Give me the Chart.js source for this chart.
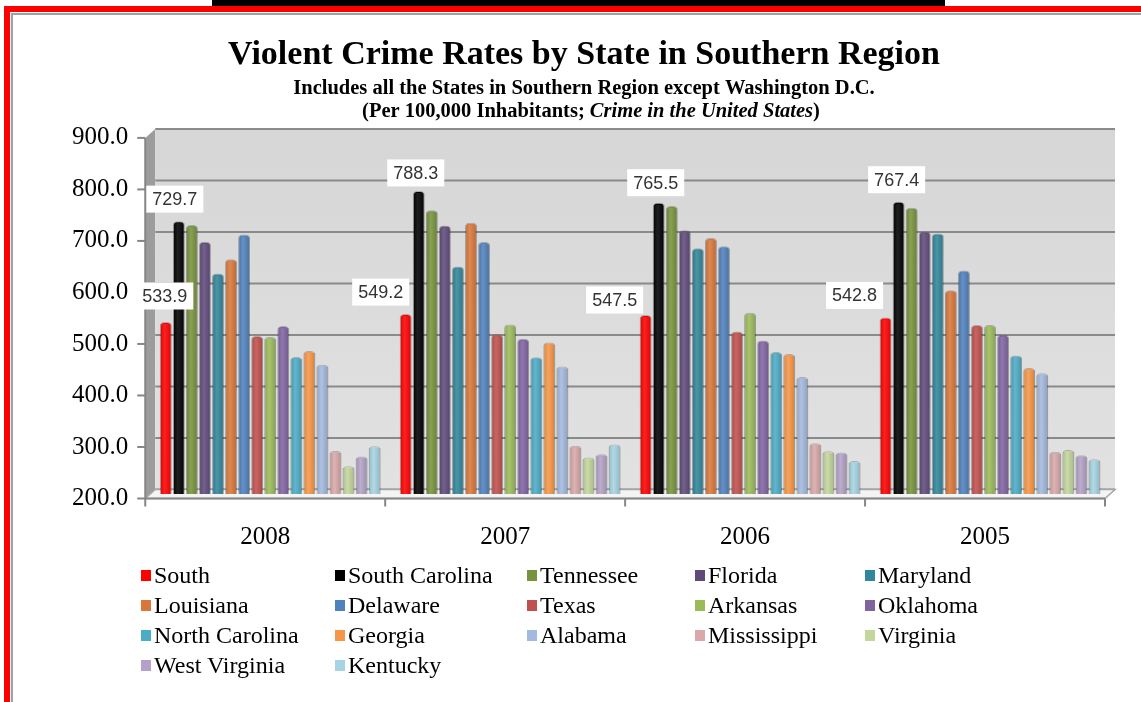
<!DOCTYPE html>
<html lang="en">
<head>
  <meta charset="UTF-8">
  <title>Violent Crime Rates by State in Southern Region</title>
  <script src="https://cdn.jsdelivr.net/npm/chart.js"></script>
  <style>
    body { margin: 0; background: #fff; }
    #page { position: relative; width: 1141px; height: 702px; overflow: hidden; background: #fff; }
    #chartBox { position: absolute; left: 0; top: 0; width: 1141px; height: 589px; }
    .frame { position: absolute; }
    .topbar { left: 212px; top: 0; width: 733px; height: 7px; background: #000; }
    .redTop { left: 4px; top: 6px; right: 0; height: 6px; background: #f00; }
    .redLeft { left: 4px; top: 6px; width: 6px; bottom: 0; background: #f00; }
    .grayTop { left: 11px; top: 13px; right: 0; height: 0; border-top: 2px solid #a0a0a0; }
    .grayLeft { left: 11px; top: 13px; width: 0; bottom: 0; border-left: 2px solid #a0a0a0; }
    #legend {
      position: absolute; left: 141px; top: 560px;
      display: grid; grid-template-columns: 194px 192px 168px 170px 170px; grid-auto-rows: 30px;
      font: 24px "Liberation Serif", serif; color: #000;
    }
    #legend .item { display: flex; align-items: center; white-space: nowrap; }
    #legend .box { display: inline-block; width: 10px; height: 11px; margin-right: 3px; }
  </style>
</head>
<body>
  <div id="page">
    <div id="chartBox"><canvas id="grafico"></canvas></div>
    <div class="frame topbar"></div>
    <div class="frame redTop"></div>
    <div class="frame redLeft"></div>
    <div class="frame grayTop"></div>
    <div class="frame grayLeft"></div>
    <div id="legend"></div>
  </div>

  <script>
    const anos = ['2008', '2007', '2006', '2005'];
    const yTicks = [200, 300, 400, 500, 600, 700, 800, 900];

    const estados = ['South', 'South Carolina', 'Tennessee', 'Florida', 'Maryland', 'Louisiana',
      'Delaware', 'Texas', 'Arkansas', 'Oklahoma', 'North Carolina', 'Georgia', 'Alabama',
      'Mississippi', 'Virginia', 'West Virginia', 'Kentucky'];

    const south         = [533.9, 549.2, 547.5, 542.8];
    const southCarolina = [729.7, 788.3, 765.5, 767.4];
    const tennessee     = [722.2, 750.8, 759.1, 755.9];
    const florida       = [689.5, 721.2, 712.2, 709.7];
    const maryland      = [627.8, 641.4, 677.0, 705.9];
    const louisiana     = [655.8, 726.4, 696.8, 595.5];
    const delaware      = [703.6, 689.4, 680.8, 634.0];
    const texas         = [506.7, 510.0, 515.4, 528.2];
    const arkansas      = [504.7, 529.2, 551.9, 528.2];
    const oklahoma      = [526.0, 501.2, 498.1, 508.9];
    const northCarolina = [465.9, 465.3, 475.5, 469.1];
    const georgia       = [477.5, 494.1, 471.7, 444.6];
    const alabama       = [450.9, 447.4, 426.9, 434.4];
    const mississippi   = [283.7, 293.8, 298.5, 281.8];
    const virginia      = [254.0, 270.8, 283.1, 285.6];
    const westVirginia  = [272.8, 277.1, 280.6, 275.2];
    const kentucky      = [292.8, 296.3, 263.9, 267.5];

    const valores = [south, southCarolina, tennessee, florida, maryland, louisiana, delaware,
      texas, arkansas, oklahoma, northCarolina, georgia, alabama, mississippi, virginia,
      westVirginia, kentucky];

    const cores = ['#ff0000', '#000000', '#77933c', '#604a7b', '#31859c', '#d9773a', '#4f81bd',
      '#c0504d', '#9bbb59', '#8064a2', '#4bacc6', '#f79646', '#a3b9de', '#d9a8a8', '#c3d69b',
      '#b3a2c7', '#a5d4e3'];

    // deslocamento do plano da frente / fundo (efeito 3D)
    const F = { dx: -5, dy: 4.5 };
    const B = { dx: 5, dy: -4.5 };

    const paredes3d = {
      id: 'paredes3d',
      beforeDatasetsDraw(chart) {
        const { ctx, chartArea: a, scales: { y } } = chart;
        ctx.save();
        // parede lateral
        ctx.fillStyle = '#9c9c9c';
        ctx.beginPath();
        ctx.moveTo(a.left + F.dx, a.top + F.dy);
        ctx.lineTo(a.left + B.dx, a.top + B.dy);
        ctx.lineTo(a.left + B.dx, a.bottom + B.dy);
        ctx.lineTo(a.left + F.dx, a.bottom + F.dy);
        ctx.closePath();
        ctx.fill();
        // parede do fundo
        const g = ctx.createLinearGradient(0, a.top, 0, a.bottom);
        g.addColorStop(0, '#d6d6d6');
        g.addColorStop(1, '#e2e2e2');
        ctx.fillStyle = g;
        ctx.fillRect(a.left + B.dx, a.top + B.dy, a.width, a.height);
        // linhas de grade
        ctx.strokeStyle = '#8a8a8a';
        ctx.lineWidth = 2;
        yTicks.forEach(v => {
          const py = y.getPixelForValue(v) + B.dy;
          ctx.beginPath();
          ctx.moveTo(a.left + B.dx, py);
          ctx.lineTo(a.right + B.dx, py);
          ctx.stroke();
        });
        // piso
        ctx.fillStyle = '#f4f4f4';
        ctx.strokeStyle = '#a6a6a6';
        ctx.lineWidth = 1.5;
        ctx.beginPath();
        ctx.moveTo(a.left + F.dx, a.bottom + F.dy);
        ctx.lineTo(a.left + B.dx, a.bottom + B.dy);
        ctx.lineTo(a.right + B.dx, a.bottom + B.dy);
        ctx.lineTo(a.right + F.dx, a.bottom + F.dy);
        ctx.closePath();
        ctx.fill();
        ctx.stroke();
        // eixos da frente
        ctx.strokeStyle = '#868686';
        ctx.lineWidth = 2;
        ctx.beginPath();
        ctx.moveTo(a.left + F.dx, a.top + F.dy);
        ctx.lineTo(a.left + F.dx, a.bottom + F.dy);
        ctx.lineTo(a.right + F.dx, a.bottom + F.dy);
        ctx.stroke();
        yTicks.forEach(v => {
          const py = y.getPixelForValue(v) + F.dy;
          ctx.beginPath();
          ctx.moveTo(a.left + F.dx - 8, py);
          ctx.lineTo(a.left + F.dx, py);
          ctx.stroke();
        });
        const passo = a.width / anos.length;
        for (let i = 0; i <= anos.length; i++) {
          const px = a.left + i * passo + F.dx;
          ctx.beginPath();
          ctx.moveTo(px, a.bottom + F.dy);
          ctx.lineTo(px, a.bottom + F.dy + 8);
          ctx.stroke();
        }
        ctx.restore();
      },
      afterDatasetsDraw(chart) {
        const { ctx, chartArea: a } = chart;
        ctx.save();
        chart.data.datasets.forEach((ds, i) => {
          chart.getDatasetMeta(i).data.forEach(bar => {
            const w = bar.width, x0 = bar.x - w / 2;
            const fundo = Math.min(bar.base, a.bottom);
            const g = ctx.createLinearGradient(x0, 0, x0 + w, 0);
            g.addColorStop(0, 'rgba(0,0,0,0.12)');
            g.addColorStop(0.4, 'rgba(255,255,255,0.12)');
            g.addColorStop(1, 'rgba(0,0,0,0.15)');
            ctx.fillStyle = g;
            ctx.fillRect(x0, bar.y + 2, w, fundo - bar.y - 2);
          });
        });
        ctx.restore();
      }
    };

    // rótulos de valor (South e South Carolina)
    const rotulos = {
      id: 'rotulos',
      afterDraw(chart, args, opts) {
        const { ctx } = chart;
        ctx.save();
        ctx.font = '18px "Liberation Sans", Arial, sans-serif';
        ctx.textAlign = 'center';
        ctx.textBaseline = 'middle';
        opts.series.forEach((s, k) => {
          chart.getDatasetMeta(s).data.forEach((bar, j) => {
            const txt = chart.data.datasets[s].data[j].toFixed(1);
            const cx = bar.x + opts.dx[k][j];
            const cy = bar.y - opts.dy[k][j];
            const w = ctx.measureText(txt).width + 12;
            const h = 27;
            ctx.fillStyle = '#ffffff';
            ctx.fillRect(cx - w / 2, cy - h / 2, w, h);
            ctx.fillStyle = '#333333';
            ctx.fillText(txt, cx, cy + 1);
          });
        });
        ctx.restore();
      }
    };

    // linha do subtítulo com trecho em itálico
    const subtitulo2 = {
      id: 'subtitulo2',
      afterDraw(chart, args, opts) {
        const { ctx } = chart;
        const fonte = '20.5px "Liberation Serif", serif';
        const partes = [
          ['(Per 100,000 Inhabitants; ', 'bold ' + fonte],
          ['Crime in the United States', 'italic bold ' + fonte],
          [')', 'bold ' + fonte]
        ];
        ctx.save();
        ctx.fillStyle = '#000';
        ctx.textBaseline = 'middle';
        let total = 0;
        partes.forEach(p => { ctx.font = p[1]; total += ctx.measureText(p[0]).width; });
        let x = opts.cx - total / 2;
        partes.forEach(p => {
          ctx.font = p[1];
          ctx.fillText(p[0], x, opts.cy);
          x += ctx.measureText(p[0]).width;
        });
        ctx.restore();
      }
    };

    const datasets = estados.map((nome, i) => ({
      label: nome,
      data: valores[i],
      backgroundColor: cores[i],
      borderColor: 'rgba(0,0,0,0.22)',
      borderWidth: 1,
      borderRadius: { topLeft: 4, topRight: 4 },
      borderSkipped: 'bottom',
      categoryPercentage: 0.925,
      barPercentage: 0.9
    }));

    const chart = new Chart(document.getElementById('grafico'), {
      type: 'bar',
      data: { labels: anos, datasets: datasets },
      options: {
        responsive: true,
        maintainAspectRatio: false,
        animation: false,
        layout: { padding: { left: 58, right: 31, top: 0, bottom: 17 } },
        plugins: {
          legend: { display: false },
          tooltip: { enabled: false },
          title: {
            display: true,
            text: 'Violent Crime Rates by State in Southern Region',
            color: '#000',
            font: { family: '"Liberation Serif", serif', size: 34, weight: 'bold' },
            padding: { top: 35, bottom: 0 }
          },
          subtitle: {
            display: true,
            text: 'Includes all the States in Southern Region except Washington D.C.',
            color: '#000',
            font: { family: '"Liberation Serif", serif', size: 20.5, weight: 'bold' },
            padding: { top: 1, bottom: 32 }
          },
          subtitulo2: { cx: 591, cy: 112 },
          rotulos: {
            series: [0, 1],
            dx: [[-1, -25, -31, -31], [-4, -3, -3, -2]],
            dy: [[26, 22, 15, 22], [22, 18, 20, 22]]
          }
        },
        scales: {
          x: {
            grid: { display: false },
            border: { display: false },
            ticks: {
              color: '#000',
              font: { family: '"Liberation Serif", serif', size: 25 },
              padding: 20,
              labelOffset: F.dx
            }
          },
          y: {
            min: 200,
            max: 900,
            grid: { display: false },
            border: { display: false },
            ticks: {
              stepSize: 100,
              color: '#000',
              font: { family: '"Liberation Serif", serif', size: 25 },
              padding: 14,
              labelOffset: F.dy,
              callback: v => v.toFixed(1)
            }
          }
        }
      },
      plugins: [paredes3d, rotulos, subtitulo2]
    });

    // legenda em HTML, em colunas
    const legenda = document.getElementById('legend');
    chart.data.datasets.forEach(ds => {
      const item = document.createElement('div');
      item.className = 'item';
      const box = document.createElement('span');
      box.className = 'box';
      box.style.background = ds.backgroundColor;
      item.appendChild(box);
      item.appendChild(document.createTextNode(ds.label));
      legenda.appendChild(item);
    });
  </script>
</body>
</html>
